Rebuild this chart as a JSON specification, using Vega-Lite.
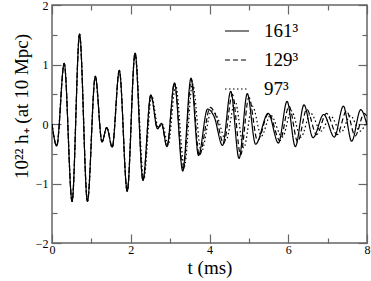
{
  "$schema": "https://vega.github.io/schema/vega-lite/v6.json",
  "autosize": "none",
  "padding": {"left": 52, "top": 5, "right": 4, "bottom": 38},
  "width": 315,
  "height": 238,
  "config": {
    "view": {"stroke": "#666", "strokeWidth": 1.5},
    "font": "Liberation Serif"
  },
  "data": {"values": [
    {"t":0,"h":0,"r":"161³"},{"t":0.12,"h":-0.37,"r":"161³"},{"t":0.31,"h":1.02,"r":"161³"},{"t":0.51,"h":-1.30,"r":"161³"},{"t":0.70,"h":1.51,"r":"161³"},{"t":0.90,"h":-1.30,"r":"161³"},{"t":1.10,"h":0.80,"r":"161³"},{"t":1.27,"h":-0.30,"r":"161³"},{"t":1.39,"h":-0.06,"r":"161³"},{"t":1.53,"h":-0.39,"r":"161³"},{"t":1.71,"h":0.90,"r":"161³"},{"t":1.91,"h":-1.13,"r":"161³"},{"t":2.11,"h":1.19,"r":"161³"},{"t":2.31,"h":-0.95,"r":"161³"},{"t":2.51,"h":0.49,"r":"161³"},{"t":2.68,"h":-0.08,"r":"161³"},{"t":2.78,"h":0.01,"r":"161³"},{"t":2.92,"h":-0.38,"r":"161³"},{"t":3.11,"h":0.69,"r":"161³"},{"t":3.32,"h":-0.79,"r":"161³"},{"t":3.53,"h":0.77,"r":"161³"},{"t":3.72,"h":-0.53,"r":"161³"},{"t":3.95,"h":0.25,"r":"161³"},{"t":4.12,"h":0.12,"r":"161³"},{"t":4.33,"h":-0.36,"r":"161³"},{"t":4.54,"h":0.55,"r":"161³"},{"t":4.75,"h":-0.58,"r":"161³"},{"t":4.96,"h":0.51,"r":"161³"},{"t":5.17,"h":-0.34,"r":"161³"},{"t":5.49,"h":0.18,"r":"161³"},{"t":5.75,"h":-0.32,"r":"161³"},{"t":5.97,"h":0.38,"r":"161³"},{"t":6.18,"h":-0.38,"r":"161³"},{"t":6.40,"h":0.32,"r":"161³"},{"t":6.63,"h":-0.23,"r":"161³"},{"t":6.90,"h":0.16,"r":"161³"},{"t":7.17,"h":-0.22,"r":"161³"},{"t":7.40,"h":0.30,"r":"161³"},{"t":7.61,"h":-0.29,"r":"161³"},{"t":7.84,"h":0.24,"r":"161³"},{"t":8.0,"h":-0.02,"r":"161³"},

    {"t":0,"h":0,"r":"129³"},{"t":0.12,"h":-0.37,"r":"129³"},{"t":0.31,"h":1.02,"r":"129³"},{"t":0.51,"h":-1.30,"r":"129³"},{"t":0.70,"h":1.51,"r":"129³"},{"t":0.90,"h":-1.30,"r":"129³"},{"t":1.10,"h":0.80,"r":"129³"},{"t":1.27,"h":-0.30,"r":"129³"},{"t":1.39,"h":-0.06,"r":"129³"},{"t":1.53,"h":-0.39,"r":"129³"},{"t":1.71,"h":0.90,"r":"129³"},{"t":1.91,"h":-1.13,"r":"129³"},{"t":2.11,"h":1.19,"r":"129³"},{"t":2.31,"h":-0.95,"r":"129³"},{"t":2.51,"h":0.49,"r":"129³"},{"t":2.68,"h":-0.08,"r":"129³"},{"t":2.78,"h":0.01,"r":"129³"},{"t":2.92,"h":-0.38,"r":"129³"},{"t":3.11,"h":0.69,"r":"129³"},{"t":3.33,"h":-0.77,"r":"129³"},{"t":3.54,"h":0.75,"r":"129³"},{"t":3.74,"h":-0.53,"r":"129³"},{"t":4.02,"h":0.28,"r":"129³"},{"t":4.15,"h":0.16,"r":"129³"},{"t":4.36,"h":-0.33,"r":"129³"},{"t":4.58,"h":0.50,"r":"129³"},{"t":4.79,"h":-0.52,"r":"129³"},{"t":5.00,"h":0.45,"r":"129³"},{"t":5.22,"h":-0.28,"r":"129³"},{"t":5.50,"h":0.18,"r":"129³"},{"t":5.79,"h":-0.28,"r":"129³"},{"t":6.02,"h":0.30,"r":"129³"},{"t":6.24,"h":-0.30,"r":"129³"},{"t":6.47,"h":0.25,"r":"129³"},{"t":6.72,"h":-0.18,"r":"129³"},{"t":6.97,"h":0.18,"r":"129³"},{"t":7.24,"h":-0.18,"r":"129³"},{"t":7.48,"h":0.22,"r":"129³"},{"t":7.70,"h":-0.20,"r":"129³"},{"t":7.93,"h":0.18,"r":"129³"},{"t":8.0,"h":0.12,"r":"129³"},

    {"t":0,"h":0,"r":"97³"},{"t":0.12,"h":-0.37,"r":"97³"},{"t":0.31,"h":1.02,"r":"97³"},{"t":0.51,"h":-1.30,"r":"97³"},{"t":0.70,"h":1.51,"r":"97³"},{"t":0.90,"h":-1.30,"r":"97³"},{"t":1.10,"h":0.80,"r":"97³"},{"t":1.27,"h":-0.30,"r":"97³"},{"t":1.39,"h":-0.06,"r":"97³"},{"t":1.53,"h":-0.39,"r":"97³"},{"t":1.71,"h":0.90,"r":"97³"},{"t":1.91,"h":-1.13,"r":"97³"},{"t":2.11,"h":1.19,"r":"97³"},{"t":2.33,"h":-0.93,"r":"97³"},{"t":2.53,"h":0.47,"r":"97³"},{"t":2.70,"h":-0.06,"r":"97³"},{"t":2.80,"h":0.0,"r":"97³"},{"t":2.95,"h":-0.35,"r":"97³"},{"t":3.14,"h":0.65,"r":"97³"},{"t":3.36,"h":-0.72,"r":"97³"},{"t":3.57,"h":0.68,"r":"97³"},{"t":3.79,"h":-0.47,"r":"97³"},{"t":4.05,"h":0.22,"r":"97³"},{"t":4.18,"h":0.14,"r":"97³"},{"t":4.42,"h":-0.27,"r":"97³"},{"t":4.65,"h":0.38,"r":"97³"},{"t":4.87,"h":-0.40,"r":"97³"},{"t":5.09,"h":0.30,"r":"97³"},{"t":5.32,"h":-0.20,"r":"97³"},{"t":5.55,"h":0.15,"r":"97³"},{"t":5.85,"h":-0.22,"r":"97³"},{"t":6.08,"h":0.22,"r":"97³"},{"t":6.32,"h":-0.22,"r":"97³"},{"t":6.57,"h":0.18,"r":"97³"},{"t":6.83,"h":-0.12,"r":"97³"},{"t":7.08,"h":0.13,"r":"97³"},{"t":7.34,"h":-0.14,"r":"97³"},{"t":7.58,"h":0.14,"r":"97³"},{"t":7.82,"h":-0.12,"r":"97³"},{"t":8.0,"h":0.06,"r":"97³"}
  ]},
  "resolve": {"axis": {"x": "independent", "y": "independent"}},
  "layer": [
    {
      "mark": {"type": "line", "interpolate": "monotone", "color": "black", "strokeWidth": 1.2, "clip": true},
      "encoding": {
        "x": {"field": "t", "type": "quantitative", "scale": {"domain": [0, 8], "nice": false},
          "axis": {"orient": "bottom", "values": [0,1,2,3,4,5,6,7,8], "title": "t (ms)", "titleFont": "Liberation Serif", "titleFontSize": 19, "titleFontWeight": "normal", "titleColor": "black", "titlePadding": 3,
            "labelExpr": "datum.value % 2 === 0 ? format(datum.value, 'd') : ''", "labelFont": "Liberation Serif", "labelFontSize": 12, "labelColor": "black", "labelPadding": 10, "labelFlush": false,
            "domain": false, "tickColor": "#666", "tickWidth": 1.2, "tickSize": {"condition": {"test": "datum.value % 2 === 0", "value": -9}, "value": -5}, "grid": false}},
        "y": {"field": "h", "type": "quantitative", "scale": {"domain": [-2, 2], "nice": false},
          "axis": {"orient": "left", "values": [-2,-1.5,-1,-0.5,0,0.5,1,1.5,2], "title": "10²² h₊ (at 10 Mpc)", "titleFont": "Liberation Serif", "titleFontSize": 19, "titleFontWeight": "normal", "titleColor": "black", "titlePadding": 4, "titleY": 101,
            "labelExpr": "datum.value % 1 === 0 ? format(datum.value, 'd') : ''", "labelFont": "Liberation Serif", "labelFontSize": 12, "labelColor": "black", "labelPadding": 13, "labelFlush": false,
            "domain": false, "tickColor": "#666", "tickWidth": 1.2, "tickSize": {"condition": {"test": "datum.value % 1 === 0", "value": -9}, "value": -5}, "grid": false}},
        "strokeDash": {"field": "r", "type": "nominal", "sort": null,
          "scale": {"domain": ["161³", "129³", "97³"], "range": [[1, 0], [5, 3], [1.5, 2.5]]},
          "legend": {"orient": "none", "legendX": 172, "legendY": 13, "title": null, "symbolType": "stroke", "symbolSize": 576, "symbolStrokeWidth": 1.2, "symbolStrokeColor": "black", "labelFont": "Liberation Serif", "labelFontSize": 19, "labelColor": "black", "rowPadding": 6, "labelOffset": 14}}
      }
    },
    {
      "mark": {"type": "line", "opacity": 0},
      "encoding": {
        "x": {"field": "t", "type": "quantitative",
          "axis": {"orient": "top", "values": [0,1,2,3,4,5,6,7,8], "title": null, "labels": false, "domain": false, "tickColor": "#666", "tickWidth": 1.2, "tickSize": {"condition": {"test": "datum.value % 2 === 0", "value": -9}, "value": -5}, "grid": false}},
        "y": {"field": "h", "type": "quantitative",
          "axis": {"orient": "right", "values": [-2,-1.5,-1,-0.5,0,0.5,1,1.5,2], "title": null, "labels": false, "domain": false, "tickColor": "#666", "tickWidth": 1.2, "tickSize": {"condition": {"test": "datum.value % 1 === 0", "value": -9}, "value": -5}, "grid": false}}
      }
    }
  ]
}
